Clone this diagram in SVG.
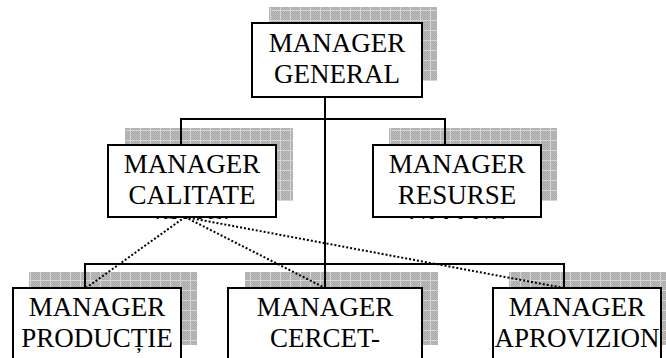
<svg xmlns="http://www.w3.org/2000/svg" width="666" height="358" viewBox="0 0 666 358">
  <style>
    .box { fill: #ffffff; stroke: #000000; stroke-width: 2; }
    .shadow { fill: url(#hatch); }
    .link { fill: none; stroke: #000000; stroke-width: 2; }
    .dot { fill: none; stroke: #000000; stroke-width: 2; stroke-dasharray: 2 2; }
    .label { font-family: "Liberation Serif", "Times New Roman", serif; font-size: 27px; fill: #000000; text-anchor: middle; }
  </style>
  <defs>
    <!-- fine dithered grey with a light 10px grid -->
    <pattern id="dither" width="2" height="2" patternUnits="userSpaceOnUse">
      <rect width="2" height="2" fill="#bdbdbd"/>
      <rect width="1" height="1" fill="#a9a9a9"/>
      <rect x="1" y="1" width="1" height="1" fill="#a9a9a9"/>
    </pattern>
    <pattern id="hatch" width="10" height="10" patternUnits="userSpaceOnUse">
      <rect width="10" height="10" fill="url(#dither)"/>
      <path d="M0 0.5H10M0.5 0V10" stroke="#d6d6d6" stroke-width="1"/>
    </pattern>
    <clipPath id="clipCal"><rect x="100" y="140" width="190" height="79"/></clipPath>
    <clipPath id="clipRes"><rect x="365" y="140" width="190" height="79"/></clipPath>
  </defs>

  <!-- drop shadows sit under everything else -->
  <g id="shadows">
    <rect class="shadow" x="269" y="7" width="168" height="74"/>
    <rect class="shadow" x="125" y="128" width="168" height="73"/>
    <rect class="shadow" x="389" y="128" width="168" height="73"/>
    <rect class="shadow" x="29" y="272" width="168" height="73"/>
    <rect class="shadow" x="245" y="272" width="193" height="73"/>
    <rect class="shadow" x="509" y="272" width="168" height="73"/>
  </g>

  <g id="connectors">
    <path class="link" d="M325 97V288"/>
    <path class="link" d="M181 145V119H445V145"/>
    <path class="link" d="M85 288V264H564V288"/>
    <path class="dot" d="M185 217L86 288"/>
    <path class="dot" d="M185 217L325 288"/>
    <path class="dot" d="M185 217L564 288"/>
  </g>

  <g id="manager-general">
    <rect class="box" x="252" y="23" width="170" height="74"/>
    <text class="label" x="337" y="52">MANAGER</text>
    <text class="label" x="337" y="83">GENERAL</text>
  </g>

  <g id="manager-calitate">
    <rect class="box" x="108" y="145" width="168" height="72"/>
    <g clip-path="url(#clipCal)">
      <text class="label" x="192" y="173">MANAGER</text>
      <text class="label" x="192" y="204">CALITATE</text>
      <text class="label" x="192" y="235">(DMC)</text>
    </g>
  </g>

  <g id="manager-resurse">
    <rect class="box" x="373" y="145" width="168" height="72"/>
    <g clip-path="url(#clipRes)">
      <text class="label" x="457" y="173">MANAGER</text>
      <text class="label" x="457" y="204">RESURSE</text>
      <text class="label" x="457" y="235">UMANE</text>
    </g>
  </g>

  <g id="manager-productie">
    <rect class="box" x="13" y="288" width="168" height="80"/>
    <text class="label" x="97" y="316">MANAGER</text>
    <text class="label" x="97" y="347">PRODUCȚIE</text>
  </g>

  <g id="manager-cercetare">
    <rect class="box" x="228" y="288" width="194" height="80"/>
    <text class="label" x="325" y="316">MANAGER</text>
    <text class="label" x="325" y="347">CERCET-</text>
    <text class="label" x="325" y="376">DEZVOLTARE</text>
  </g>

  <g id="manager-aprovizionare">
    <rect class="box" x="493" y="288" width="168" height="80"/>
    <text class="label" x="577" y="316">MANAGER</text>
    <text class="label" x="577" y="347">APROVIZION</text>
    <text class="label" x="577" y="376">ARE</text>
  </g>
</svg>
